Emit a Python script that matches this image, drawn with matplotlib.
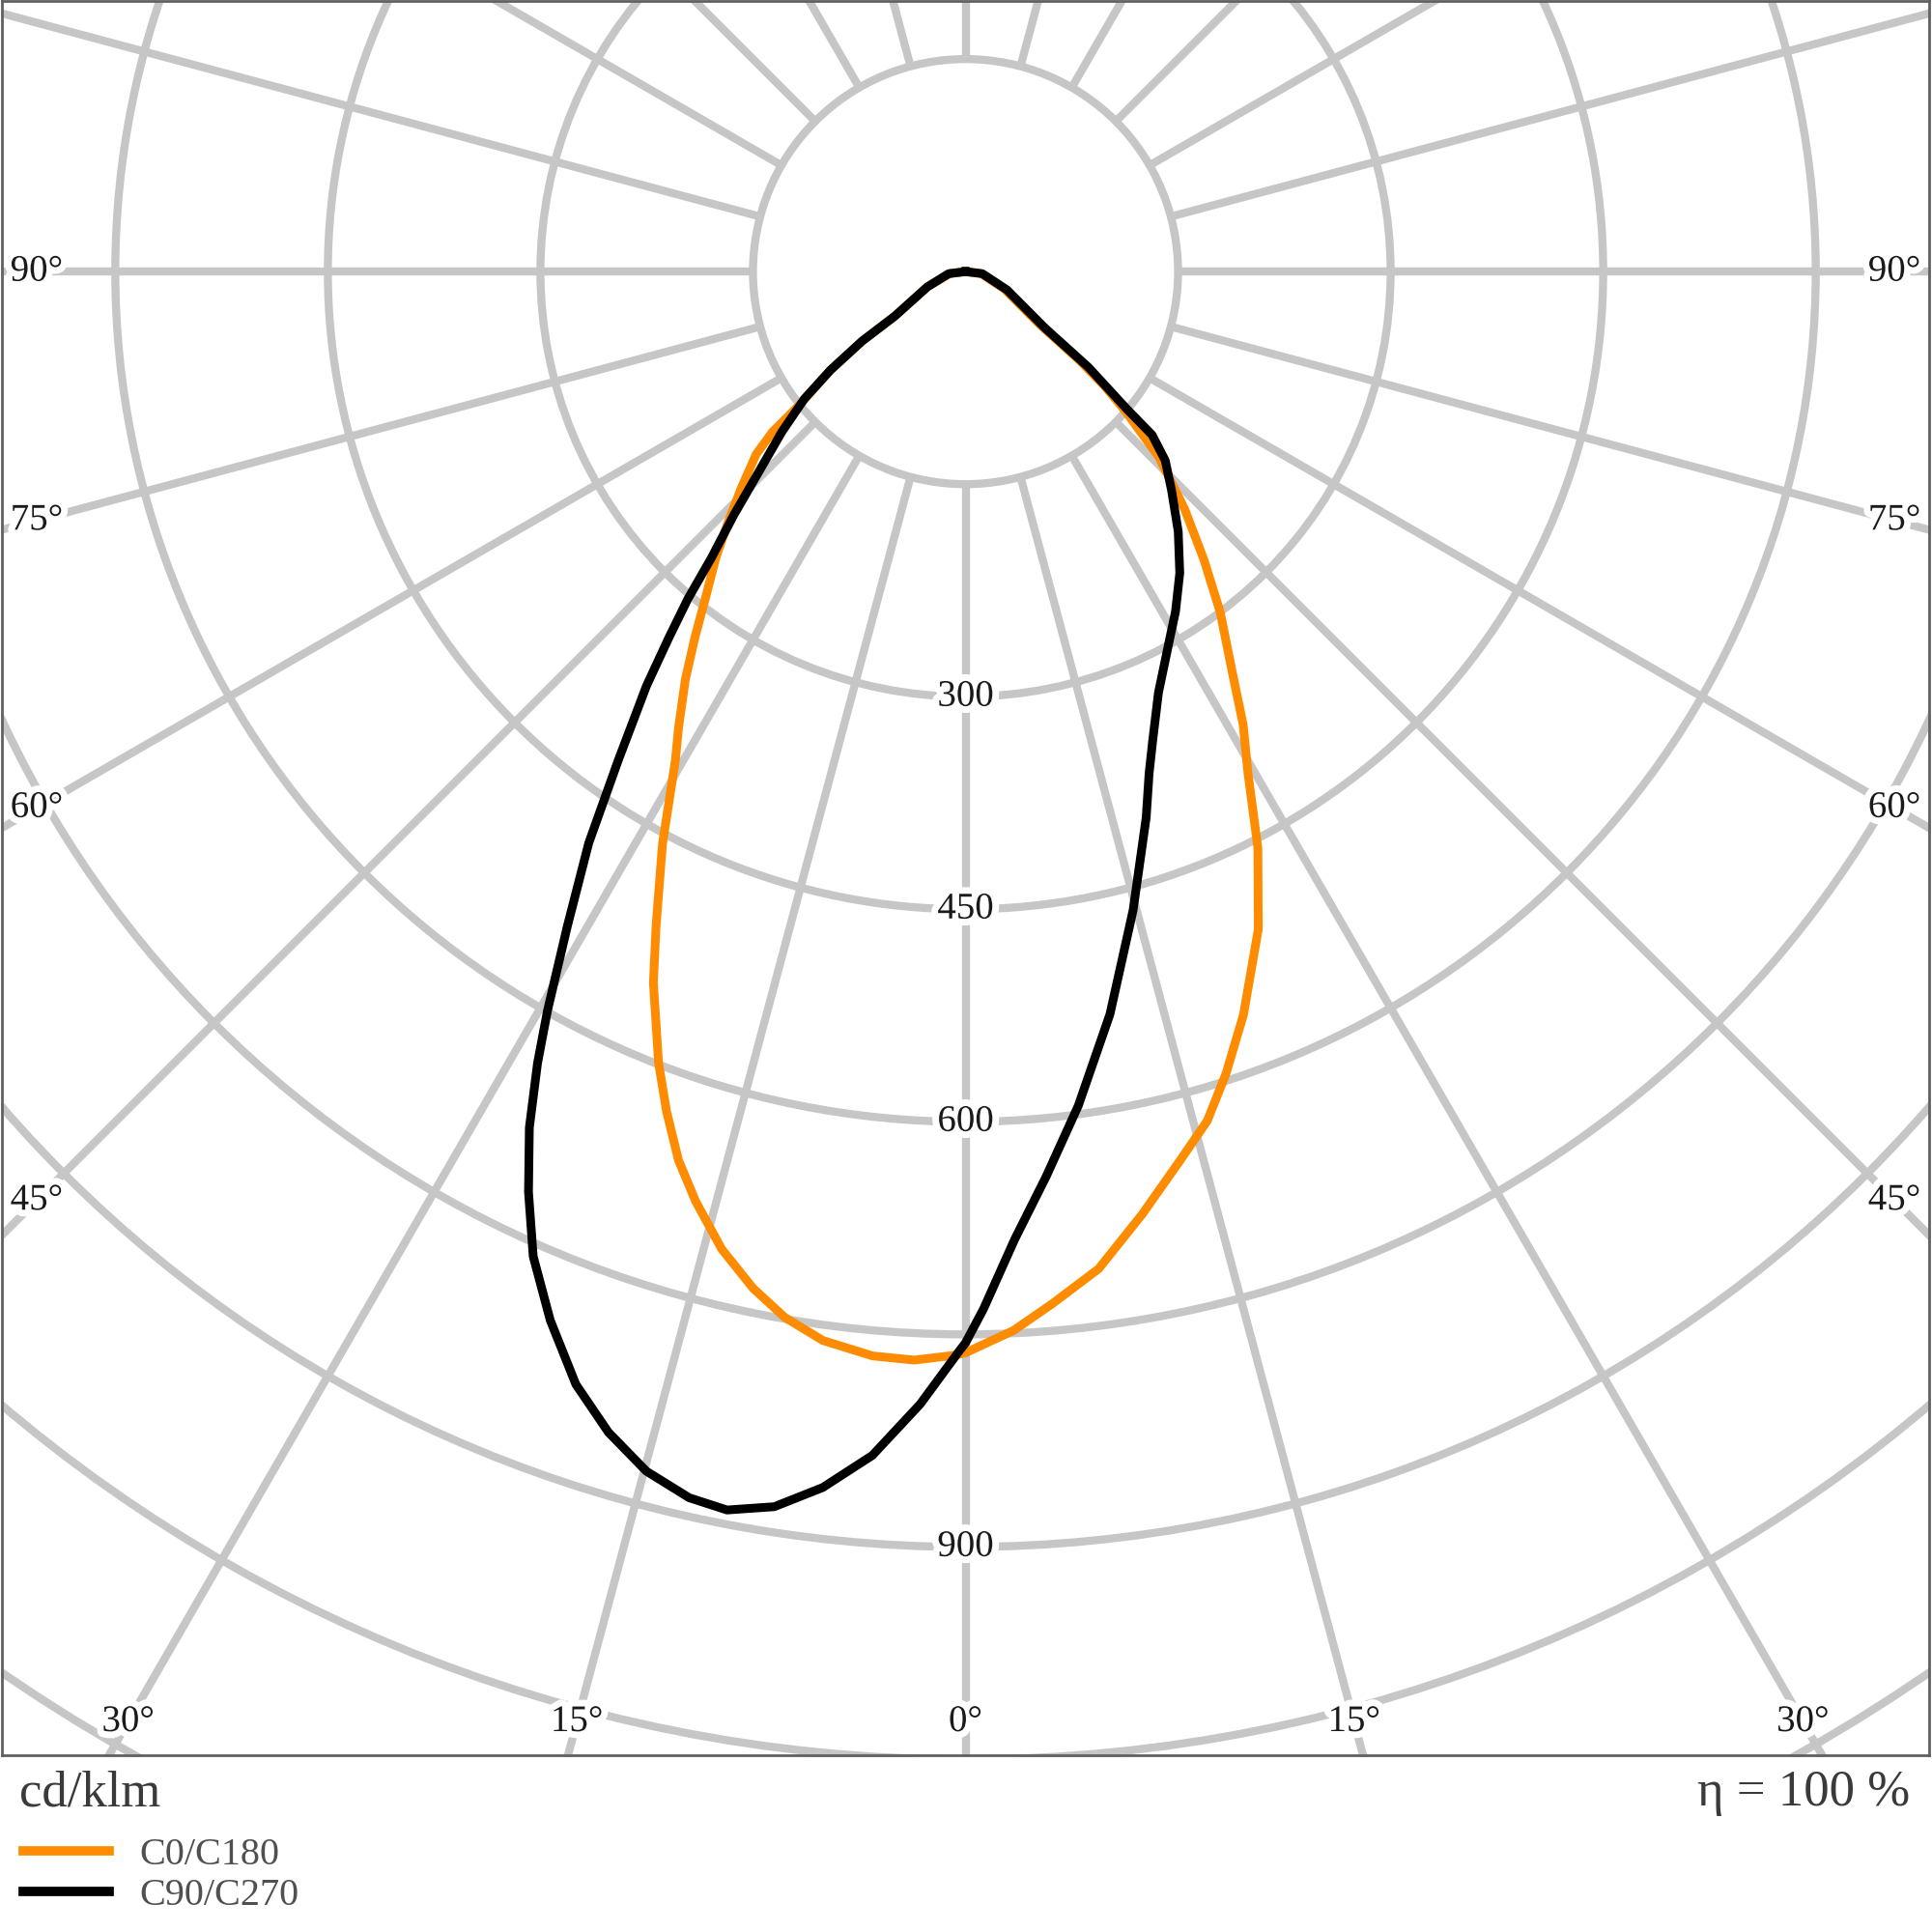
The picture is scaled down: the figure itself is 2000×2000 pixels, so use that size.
import numpy as np
import matplotlib.pyplot as plt
from matplotlib.patches import Circle
import matplotlib.patheffects as pe

plt.rcParams['font.family'] = ['Liberation Serif', 'DejaVu Serif']

# luminous intensity (cd/klm) vs gamma angle (deg from nadir)
# C0 = right half, C180 = left half of the orange curve
gamma_c0 = [0, 2.6, 4.8, 7.6, 10.6, 13.6, 15.9, 18.0, 20.5, 24.0, 26.9, 29.4, 31.5,
            33.5, 36.8, 39.6, 42.7, 46.2, 48.8, 50.5, 52.1, 54.6, 66.0, 83.0, 90.0]
cd_c0 = [763, 748, 731, 710, 677, 645, 623, 595, 560, 508, 456, 406, 375,
         342, 300, 264, 228, 189, 151, 128, 102, 64, 30, 11, 0]

gamma_c180 = [0, 0.7, 2.7, 4.9, 7.6, 9.8, 11.8, 14.0, 16.2, 17.9, 19.6, 21.2, 23.7,
              25.3, 27.9, 30.7, 32.2, 34.5, 36.5, 38.5, 41.1, 43.3, 45.9, 48.9, 50.3,
              51.2, 53.9, 56.1, 57.8, 68.2, 83.0, 90.0]
cd_c180 = [763, 765, 769, 768, 761, 749, 733, 711, 683, 659, 629, 599, 548,
           511, 457, 401, 380, 349, 321, 295, 268, 245, 221, 196, 177,
           151, 118, 88, 59, 29, 11, 0]

# C90 = right half, C270 = left half of the black curve
gamma_c90 = [0, 1.0, 2.9, 5.1, 7.7, 11.0, 14.7, 18.3, 20.1, 21.7, 24.6, 28.5, 31.7,
             35.4, 39.3, 43.3, 46.6, 48.8, 49.6, 52.1, 54.6, 66.2, 83.0, 90.0]
cd_c90 = [756, 732, 684, 641, 594, 534, 466, 406, 377, 357, 327, 300, 282,
          261, 237, 212, 194, 175, 149, 110, 69, 32, 12, 0]

gamma_c270 = [0, 0.4, 2.3, 4.5, 6.7, 8.8, 10.9, 12.7, 14.9, 17.1, 19.3, 21.6, 23.7,
              25.4, 27.0, 28.4, 29.5, 31.3, 33.4, 35.4, 36.3, 37.6, 39.0, 40.3, 41.6,
              43.6, 46.0, 48.9, 51.7, 53.9, 56.1, 57.8, 68.2, 83.0, 90.0]
cd_c270 = [756, 763, 800, 838, 864, 882, 890, 887, 876, 857, 832, 796, 759,
           719, 678, 635, 599, 541, 483, 423, 399, 369, 333, 303, 270,
           237, 202, 172, 145, 118, 88, 59, 29, 12, 0]

ring_values = [150, 300, 450, 600, 750, 900, 1050, 1200, 1350]
ring_labels = [300, 450, 600, 900]
side_angles = [45, 60, 75, 90]
bottom_angles = [0, 15, 30]

grid_col = '#c6c6c6'
halo = [pe.withStroke(linewidth=10, foreground='white')]

fig = plt.figure(figsize=(20, 20), dpi=100)
ax = fig.add_axes([2 / 2000, 1 - 1817 / 2000, 1995 / 2000, 1816 / 2000])
xmin, xmax, ymin, ymax = -680, 680, -1047, 191
ax.set_xlim(xmin, xmax)
ax.set_ylim(ymin, ymax)
ax.set_xticks([])
ax.set_yticks([])
for s in ax.spines.values():
    s.set_color('#606060')
    s.set_linewidth(2)

# grid: rings and radial spokes (spokes start at the first ring)
for r in ring_values:
    ax.add_patch(Circle((0, 0), r, fill=False, ec=grid_col, lw=6, zorder=1))
for a in np.arange(0, 360, 15):
    t = np.radians(a)
    ax.plot([150 * np.sin(t), 2000 * np.sin(t)], [-150 * np.cos(t), -2000 * np.cos(t)],
            color=grid_col, lw=6, zorder=1, solid_capstyle='butt')

# ring value labels on the 0 deg axis
for v in ring_labels:
    ax.text(0, -v, str(v), ha='center', va='center', fontsize=28, color='#1a1a1a',
            path_effects=halo, zorder=2)

# angle labels near the frame edges
inset_x, inset_y = 24.5, 23.5
for a in side_angles:
    yy = -(xmax - inset_x) / np.tan(np.radians(a)) if a != 90 else 0
    ax.text(xmin + inset_x, yy, f'{a}°', ha='center', va='center', fontsize=28,
            color='#1a1a1a', path_effects=halo, zorder=2)
    ax.text(xmax - inset_x, yy, f'{a}°', ha='center', va='center', fontsize=28,
            color='#1a1a1a', path_effects=halo, zorder=2)
for a in bottom_angles:
    yy = ymin + inset_y
    xx = -yy * np.tan(np.radians(a))
    for sgn in ([1] if a == 0 else [-1, 1]):
        ax.text(sgn * xx, yy, f'{a}°', ha='center', va='center', fontsize=28,
                color='#1a1a1a', path_effects=halo, zorder=2)


def half_curve(gam, cd, side):
    t = np.radians(np.array(gam))
    r = np.array(cd, dtype=float)
    return side * r * np.sin(t), -r * np.cos(t)


def full_curve(g_right, c_right, g_left, c_left):
    xr, yr = half_curve(g_right, c_right, 1)
    xl, yl = half_curve(g_left, c_left, -1)
    x = np.concatenate([xl[::-1], xr[1:]])
    y = np.concatenate([yl[::-1], yr[1:]])
    return x, y


x0, y0 = full_curve(gamma_c0, cd_c0, gamma_c180, cd_c180)
x90, y90 = full_curve(gamma_c90, cd_c90, gamma_c270, cd_c270)
ax.plot(x0, y0, color='#ff8c00', lw=6.5, zorder=3, label='C0/C180', solid_joinstyle='round')
ax.plot(x90, y90, color='black', lw=6.5, zorder=4, label='C90/C270', solid_joinstyle='round')

fig.text(20 / 2000, 1 - 1856 / 2000, 'cd/klm', fontsize=38, color='#3a3a3a',
         ha='left', va='center')
fig.text(1977 / 2000, 1 - 1856 / 2000, 'η = 100 %', fontsize=38, color='#3a3a3a',
         ha='right', va='center')

leg = fig.legend(loc='upper left', bbox_to_anchor=(24 / 2000, 1 - 1902 / 2000),
                 frameon=False, fontsize=29, handlelength=2.2, handletextpad=0.8,
                 labelspacing=0.12, borderpad=0, borderaxespad=0)
for t in leg.get_texts():
    t.set_color('#505050')
for h in leg.legend_handles:
    h.set_linewidth(7)

fig.savefig('out.png', dpi=100, facecolor='white')
